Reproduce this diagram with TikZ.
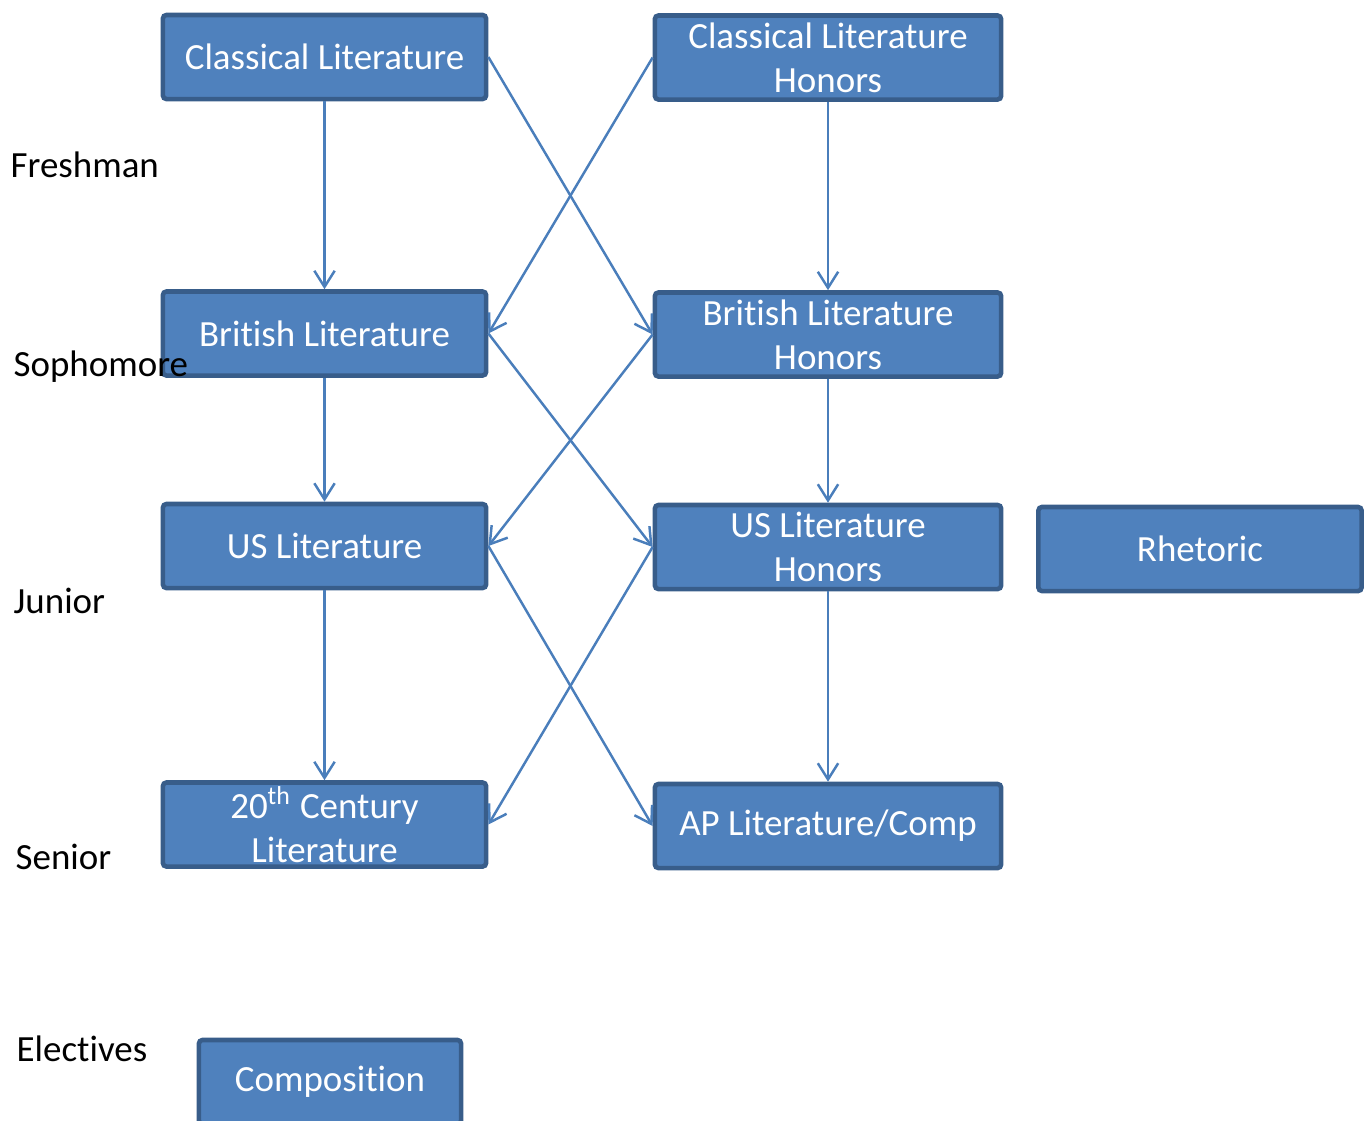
\documentclass[tikz,border=0pt]{standalone}
\usepackage{fontspec}
\setmainfont[Ligatures=NoCommon]{Carlito}
\usetikzlibrary{positioning, arrows.meta}
\definecolor{boxfill}{HTML}{4F81BD}
\definecolor{boxline}{HTML}{385D8A}
\definecolor{arrline}{HTML}{4A7EBB}
\begin{document}
\begin{tikzpicture}[
  x=0.01cm, y=-0.01cm,
  course/.style={draw=boxline, fill=boxfill, line width=1.3pt, rounded corners=1pt,
                 minimum width=3.23cm, minimum height=0.84cm, inner sep=0pt,
                 align=center, text=white, font=\fontsize{10.5}{12.4}\selectfont},
  honors/.style={course, minimum width=3.46cm},
  yr/.style={anchor=west, inner sep=0pt, font=\fontsize{10.5}{12.4}\selectfont},
  path/.style={arrline, line width=0.7pt, -{Straight Barb[length=4.6pt, width=5.8pt]}},
]
  \clip (0,0) rectangle (1370,1120);

  % Standard track
  \node[course] (cl) at (324.5,57) {Classical Literature};
  \node[course] (bl) at (324.5,333.5) {British Literature};
  \node[course] (ul) at (324.5,546) {US Literature};
  \node[course] (tl) at (324.5,824.5) {20\textsuperscript{th} Century\\Literature};

  % Honors track
  \node[honors] (clh) at (828,57.5) {Classical Literature\\Honors};
  \node[honors] (blh) at (828,334.5) {British Literature\\Honors};
  \node[honors] (ulh) at (828,547) {US Literature\\Honors};
  \node[honors] (ap) at (828,826) {AP Literature/Comp};

  % Electives
  \node[course] (rh) at (1200,549) {Rhetoric};
  \node[course, minimum width=2.62cm] (cp) at (330,1082) {Composition};

  % Year labels
  \node[yr] (fr) at (10,165) {Freshman};
  \node[yr] (so) at (13,367) {Sophomore};
  \node[yr] (ju) at (13,601) {Junior};
  \node[yr] (se) at (15,857) {Senior};
  \node[yr] (el) at (16,1049) {Electives};

  % Straight down
  \foreach \a/\b in {cl/bl, bl/ul, ul/tl, clh/blh, blh/ulh, ulh/ap}
    { \draw[path] (\a.south) -- (\b.north); }

  % Crossing between tracks
  \foreach \a/\b in {cl/blh, bl/ulh, ul/ap}
    { \draw[path] (\a.east) -- (\b.west); }
  \foreach \a/\b in {clh/bl, blh/ul, ulh/tl}
    { \draw[path] (\a.west) -- (\b.east); }

\end{tikzpicture}
\end{document}
